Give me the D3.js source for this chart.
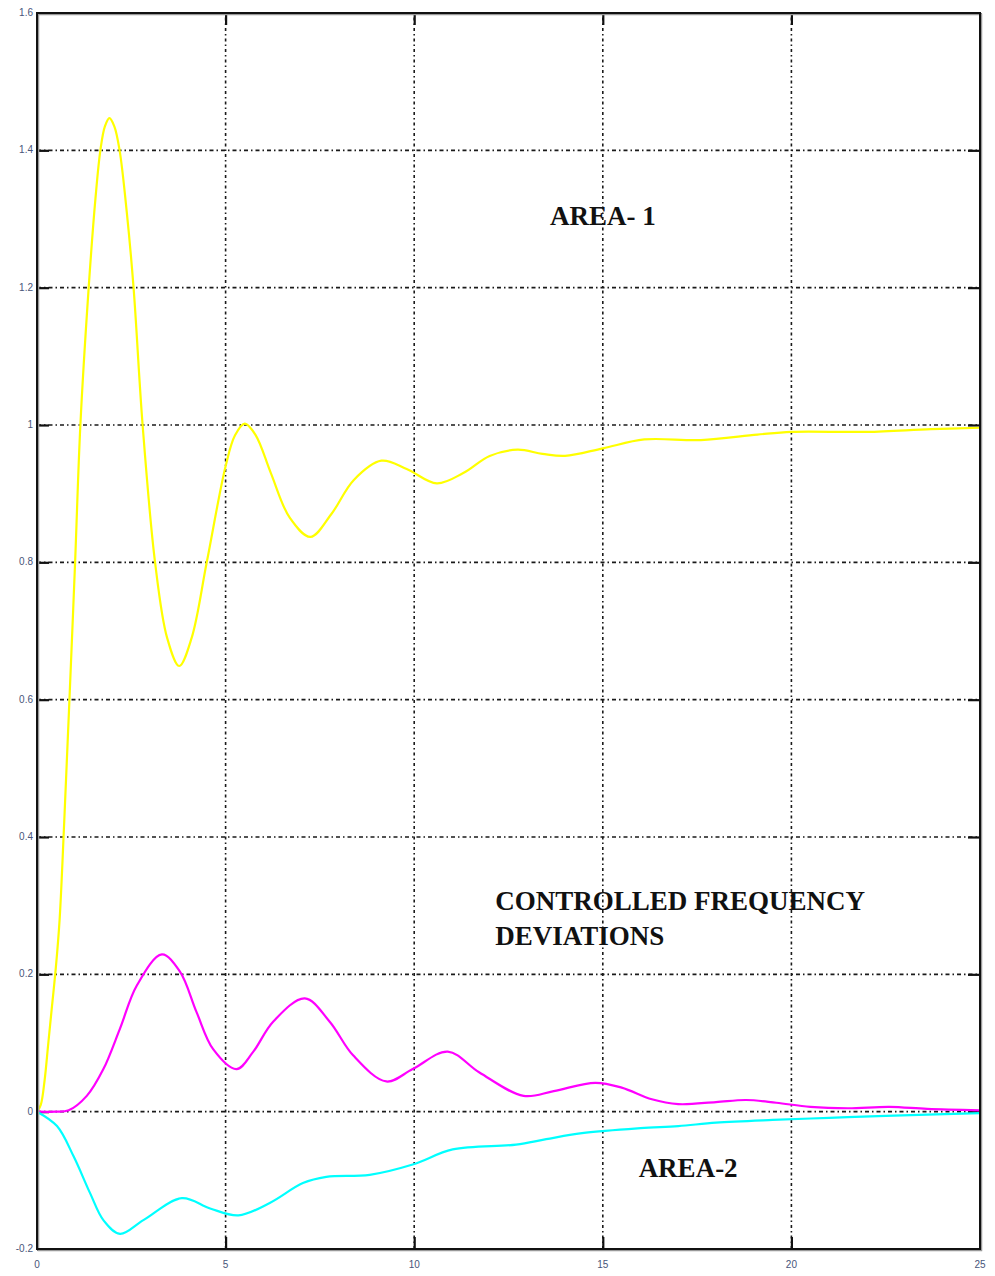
<!DOCTYPE html>
<html>
<head>
<meta charset="utf-8">
<script src="https://cdn.jsdelivr.net/npm/d3@7/dist/d3.min.js"></script>
<style>
  html, body { margin: 0; padding: 0; background: #fff; }
  svg { display: block; }
</style>
</head>
<body>
<svg id="chart" width="995" height="1276"></svg>
<script>
// ---- data ----
const xTicks = [0, 5, 10, 15, 20, 25];
const yTicks = [-0.2, 0, 0.2, 0.4, 0.6, 0.8, 1.0, 1.2, 1.4, 1.6];

const area1T = [0, 0.1, 0.2, 0.3, 0.4, 0.5, 0.6, 0.72, 0.86, 1.01, 1.15, 1.37, 1.55, 1.68, 1.8, 1.92, 2.05, 2.19, 2.38, 2.56, 2.8, 3.13, 3.45, 3.77, 4.1, 4.5, 5.0, 5.25, 5.51, 5.8, 6.2, 6.7, 7.25, 7.8, 8.4, 9.13, 9.8, 10.6, 11.3, 12.0, 12.74, 13.4, 14.0, 15.0, 16.1, 17.6, 19.1, 20.0, 22.0, 23.7, 25.0];
const area1V = [0, 0.01, 0.045, 0.1, 0.155, 0.21, 0.28, 0.42, 0.6, 0.8, 1.0, 1.2, 1.33, 1.4, 1.435, 1.447, 1.435, 1.4, 1.31, 1.2, 1.0, 0.8, 0.69, 0.649, 0.69, 0.8, 0.94, 0.985, 1.002, 0.985, 0.93, 0.865, 0.837, 0.87, 0.92, 0.948, 0.936, 0.915, 0.93, 0.955, 0.964, 0.958, 0.955, 0.966, 0.979, 0.978, 0.986, 0.99, 0.99, 0.994, 0.996];

const devT = [0, 0.5, 0.84, 1.32, 1.76, 2.2, 2.65, 3.31, 3.79, 4.23, 4.67, 5.29, 5.73, 6.26, 7.1, 7.76, 8.38, 9.26, 9.96, 10.89, 11.73, 12.9, 13.7, 14.8, 15.5, 16.3, 17.0, 18.0, 18.8, 19.6, 20.5, 21.5, 22.6, 23.6, 25.0];
const devV = [0, 0.0, 0.002, 0.023, 0.062, 0.121, 0.184, 0.229, 0.204, 0.145, 0.091, 0.062, 0.087, 0.131, 0.165, 0.131, 0.082, 0.044, 0.062, 0.0875, 0.057, 0.023, 0.03, 0.042, 0.035, 0.018, 0.011, 0.014, 0.017, 0.013, 0.007, 0.005, 0.007, 0.004, 0.002];

const area2T = [0, 0.53, 0.97, 1.41, 1.76, 2.2, 2.82, 3.84, 4.59, 5.34, 6.17, 7.05, 7.67, 8.82, 9.96, 11.02, 12.7, 13.5, 14.5, 16.0, 17.0, 18.0, 19.5, 21.0, 22.5, 25.0];
const area2V = [0, -0.021, -0.065, -0.119, -0.158, -0.178, -0.158, -0.126, -0.141, -0.151, -0.133, -0.104, -0.095, -0.092, -0.077, -0.055, -0.048, -0.04, -0.031, -0.024, -0.021, -0.016, -0.012, -0.009, -0.006, -0.002];

const labels = [
  { text: "AREA- 1", t: 13.6, v: 1.291 },
  { text: "CONTROLLED FREQUENCY", t: 12.15, v: 0.293 },
  { text: "DEVIATIONS", t: 12.15, v: 0.243 },
  { text: "AREA-2", t: 15.95, v: -0.095 }
];

// ---- drawing ----
const svg = d3.select("#chart");
const mL = 37, mR = 980, mT = 13, mB = 1249;
const x = d3.scaleLinear().domain([0, 25]).range([mL, mR]);
const y = d3.scaleLinear().domain([-0.2, 1.6]).range([mB, mT]);

// grid
const grid = svg.append("g");
grid.selectAll("line.h").data(yTicks.slice(1, -1)).join("line")
  .attr("x1", mL).attr("x2", mR)
  .attr("y1", d => y(d)).attr("y2", d => y(d))
  .attr("stroke", "#1a1a1a").attr("stroke-width", 1.6)
  .attr("stroke-dasharray", "4,3,1.5,3");
grid.selectAll("line.v").data(xTicks.slice(1, -1)).join("line")
  .attr("x1", d => x(d)).attr("x2", d => x(d))
  .attr("y1", mT).attr("y2", mB)
  .attr("stroke", "#1a1a1a").attr("stroke-width", 1.6)
  .attr("stroke-dasharray", "1.5,3,3,3");

// axes with inward ticks
const axL = svg.append("g").attr("transform", `translate(${mL},0)`)
  .call(d3.axisRight(y).tickValues(yTicks).tickSize(12).tickFormat(""));
const axR = svg.append("g").attr("transform", `translate(${mR},0)`)
  .call(d3.axisLeft(y).tickValues(yTicks).tickSize(12).tickFormat(""));
const axB = svg.append("g").attr("transform", `translate(0,${mB})`)
  .call(d3.axisTop(x).tickValues(xTicks).tickSize(12).tickFormat(""));
const axT = svg.append("g").attr("transform", `translate(0,${mT})`)
  .call(d3.axisBottom(x).tickValues(xTicks).tickSize(12).tickFormat(""));
[axL, axR, axB, axT].forEach(a => {
  a.select(".domain").remove();
  a.selectAll(".tick line").attr("stroke", "#111").attr("stroke-width", 2.2);
});

// tick labels
svg.append("g").selectAll("text").data(yTicks).join("text")
  .attr("x", mL - 4).attr("y", d => y(d) + 3)
  .attr("text-anchor", "end")
  .attr("font-family", "Liberation Sans, Arial, sans-serif")
  .attr("font-size", 10).attr("fill", "#48557a")
  .text(d => String(+d.toFixed(1)));
svg.append("g").selectAll("text").data(xTicks).join("text")
  .attr("x", d => x(d)).attr("y", mB + 19)
  .attr("text-anchor", "middle")
  .attr("font-family", "Liberation Sans, Arial, sans-serif")
  .attr("font-size", 10).attr("fill", "#48557a")
  .text(d => d);

// curves
const line = d3.line().x(d => x(d[0])).y(d => y(d[1])).curve(d3.curveCatmullRom.alpha(0.5));
const series = [
  { t: area1T, v: area1V, color: "#ffff00" },
  { t: devT, v: devV, color: "#ff00ff" },
  { t: area2T, v: area2V, color: "#00ffff" }
];
svg.append("g").selectAll("path").data(series).join("path")
  .attr("d", s => line(s.t.map((t, i) => [t, s.v[i]])))
  .attr("fill", "none").attr("stroke", s => s.color).attr("stroke-width", 2.2);

// frame with slight shadow
svg.append("rect").attr("x", mL + 1.5).attr("y", mT + 1.5)
  .attr("width", mR - mL).attr("height", mB - mT)
  .attr("fill", "none").attr("stroke", "#999").attr("stroke-width", 1.5);
svg.append("rect").attr("x", mL).attr("y", mT)
  .attr("width", mR - mL).attr("height", mB - mT)
  .attr("fill", "none").attr("stroke", "#111").attr("stroke-width", 2);

// annotations
svg.append("g").selectAll("text").data(labels).join("text")
  .attr("x", d => x(d.t)).attr("y", d => y(d.v))
  .attr("font-family", "Liberation Serif, Times New Roman, serif")
  .attr("font-weight", "bold").attr("font-size", 27).attr("fill", "#111")
  .text(d => d.text);
</script>
</body>
</html>
